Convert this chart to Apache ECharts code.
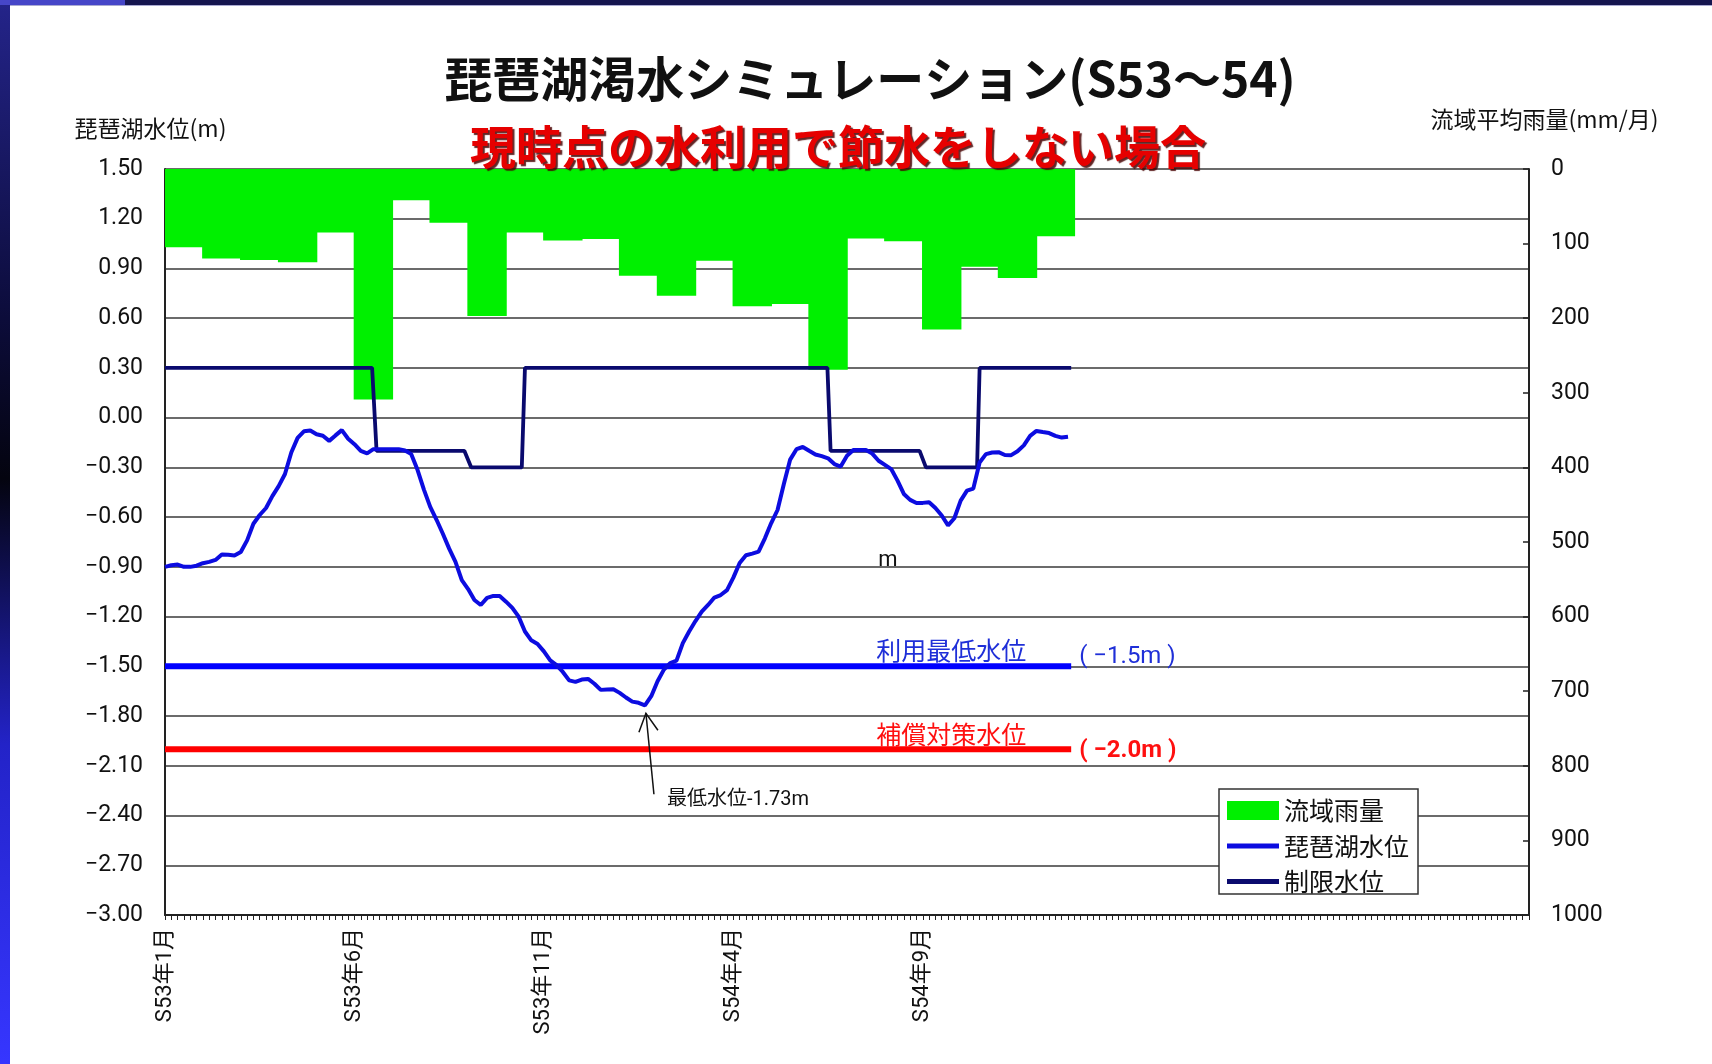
<!DOCTYPE html>
<html><head><meta charset="utf-8">
<script src="https://cdn.jsdelivr.net/npm/echarts@6/dist/echarts.min.js"></script>
<style>html,body{margin:0;padding:0;background:#fff}#c{width:1712px;height:1064px}</style>
</head><body><div id="c"></div>
<script>
// ---- data ----
const monthCats = ['S53年1月','S53年2月','S53年3月','S53年4月','S53年5月','S53年6月','S53年7月','S53年8月','S53年9月','S53年10月','S53年11月','S53年12月',
  'S54年1月','S54年2月','S54年3月','S54年4月','S54年5月','S54年6月','S54年7月','S54年8月','S54年9月','S54年10月','S54年11月','S54年12月',
  'S55年1月','S55年2月','S55年3月','S55年4月','S55年5月','S55年6月','S55年7月','S55年8月','S55年9月','S55年10月','S55年11月','S55年12月'];
const tickLabels = ['S53年1月','S53年6月','S53年11月','S54年4月','S54年9月'];
const tickPentads = [0, 30, 60, 90, 120];           // 5-day periods (72 per year)
const rainfall = [105,120,122,125,85,309,42,72,197,85,96,94,143,170,123,184,181,269,93,97,215,131,146,90]; // mm/month
const level = [-0.90,-0.89,-0.886,-0.90,-0.90,-0.893,-0.878,-0.87,-0.858,-0.825,
 -0.827,-0.831,-0.81,-0.74,-0.64,-0.587,-0.545,-0.473,-0.413,-0.34,
 -0.21,-0.122,-0.082,-0.077,-0.10,-0.109,-0.14,-0.107,-0.075,-0.127,
 -0.16,-0.20,-0.215,-0.19,-0.19,-0.19,-0.19,-0.19,-0.198,-0.22,
 -0.316,-0.434,-0.538,-0.616,-0.70,-0.79,-0.87,-0.98,-1.034,-1.10,
 -1.13,-1.087,-1.075,-1.076,-1.11,-1.147,-1.20,-1.29,-1.343,-1.365,
 -1.41,-1.464,-1.493,-1.534,-1.585,-1.594,-1.58,-1.576,-1.605,-1.642,
 -1.64,-1.638,-1.66,-1.688,-1.713,-1.72,-1.735,-1.68,-1.59,-1.52,
 -1.48,-1.466,-1.36,-1.29,-1.227,-1.17,-1.13,-1.085,-1.07,-1.04,
 -0.965,-0.877,-0.83,-0.82,-0.808,-0.728,-0.636,-0.557,-0.40,-0.253,
 -0.19,-0.177,-0.20,-0.222,-0.232,-0.245,-0.28,-0.295,-0.23,-0.195,
 -0.195,-0.195,-0.217,-0.26,-0.285,-0.31,-0.38,-0.46,-0.496,-0.515,
 -0.514,-0.51,-0.545,-0.59,-0.65,-0.607,-0.50,-0.44,-0.428,-0.27,
 -0.22,-0.21,-0.208,-0.225,-0.226,-0.203,-0.167,-0.11,-0.08,-0.087,
 -0.093,-0.11,-0.12,-0.115];
const limitX = [0, 32.8, 33.5, 47.4, 48.5, 56.5, 57, 104.9, 105.4, 119.5, 120.5, 128.6, 129, 143.5];
const limitY = [0.3, 0.3, -0.2, -0.2, -0.3, -0.3, 0.3, 0.3, -0.2, -0.2, -0.3, -0.3, 0.3, 0.3];
const minUseLevel = -1.5;   // 利用最低水位
const compLevel = -2.0;     // 補償対策水位
const refSpan = [0, 143.5];

// ---- chart ----
const JP = '"Noto Sans CJK JP", sans-serif';
const NUM = 'Roboto, "Noto Sans CJK JP", sans-serif';
const chart = echarts.init(document.getElementById('c'), null, {renderer: 'canvas'});
const fmtLevel = v => { const r = Math.round(v * 100) / 100; return (r < 0 ? '\u2212' : '') + Math.abs(r).toFixed(2); };

const option = {
  animation: false,
  backgroundColor: '#ffffff',
  title: [
    {text: '琵琶湖渇水シミュレーション(S53～54)', left: 870, top: 55, textAlign: 'center', padding: 0,
     textStyle: {fontSize: 48, fontWeight: 'bold', color: '#111', fontFamily: JP}},
    {text: '現時点の水利用で節水をしない場合', left: 838, top: 124, textAlign: 'center', padding: 0,
     textStyle: {fontSize: 46, fontWeight: 'bold', color: '#e60000', fontFamily: JP,
       textShadowColor: 'rgba(70,0,0,0.85)', textShadowOffsetX: 2, textShadowOffsetY: 2, textShadowBlur: 1}}
  ],
  legend: {
    left: 1219, top: 789, orient: 'vertical', padding: [9, 9, 0, 8], itemGap: 10.5,
    itemWidth: 52, itemHeight: 19, backgroundColor: '#fff', borderColor: '#333', borderWidth: 1.5,
    selectedMode: false, textStyle: {fontSize: 25, color: '#111', fontFamily: JP},
    data: [
      {name: '流域雨量', icon: 'rect'},
      {name: '琵琶湖水位', icon: 'path://M0,0L52,0L52,5L0,5Z'},
      {name: '制限水位', icon: 'path://M0,0L52,0L52,5L0,5Z'}
    ]
  },
  grid: {left: 165, right: 183, top: 169, bottom: 149, containLabel: false},
  xAxis: [
    {type: 'value', min: 0, max: 216, interval: 1, position: 'bottom',
     axisLine: {show: true, onZero: false, lineStyle: {color: '#222', width: 2}},
     axisTick: {show: true, length: 5, lineStyle: {color: '#222', width: 1}},
     axisLabel: {show: true, rotate: 90, margin: 13, fontSize: 22, color: '#111', fontFamily: NUM,
       formatter: v => { const k = tickPentads.indexOf(v); return k >= 0 ? tickLabels[k] : ''; }},
     splitLine: {show: false}},
    {type: 'category', data: monthCats, show: false, boundaryGap: true}
  ],
  yAxis: [
    {type: 'value', min: -3, max: 1.5, interval: 0.3, position: 'left',
     name: '琵琶湖水位(m)', nameLocation: 'end', nameGap: 29,
     nameTextStyle: {fontSize: 23, color: '#111', fontFamily: JP, align: 'center', padding: [0, 29, 0, 0]},
     axisLine: {show: true, onZero: false, lineStyle: {color: '#222', width: 2}},
     axisTick: {show: false},
     axisLabel: {fontSize: 23, color: '#111', margin: 22, fontFamily: NUM, formatter: fmtLevel},
     splitLine: {show: true, lineStyle: {color: '#3a3a3a', width: 1.5}}},
    {type: 'value', min: 0, max: 1000, interval: 100, inverse: true, position: 'right',
     name: '流域平均雨量(mm/月)', nameLocation: 'start', nameGap: 38,
     nameTextStyle: {fontSize: 23, color: '#111', fontFamily: JP, align: 'center', padding: [0, 0, 0, 31]},
     axisLine: {show: true, onZero: false, lineStyle: {color: '#222', width: 2}},
     axisTick: {show: true, inside: true, length: 6, lineStyle: {color: '#222', width: 1.5}},
     axisLabel: {fontSize: 23, color: '#111', margin: 22, fontFamily: NUM, formatter: v => String(v)},
     splitLine: {show: false}}
  ],
  series: [
    {type: 'bar', name: '流域雨量', xAxisIndex: 1, yAxisIndex: 1, data: rainfall,
     barWidth: '104%', itemStyle: {color: '#00f000'}},
    {type: 'line', name: '補償対策水位', xAxisIndex: 0, yAxisIndex: 0,
     data: refSpan.map(x => [x, compLevel]), symbol: 'none', lineStyle: {color: '#ff0000', width: 6}, itemStyle: {color: '#ff0000'}},
    {type: 'line', name: '利用最低水位', xAxisIndex: 0, yAxisIndex: 0,
     data: refSpan.map(x => [x, minUseLevel]), symbol: 'none', lineStyle: {color: '#0000ff', width: 6}, itemStyle: {color: '#0000ff'}},
    {type: 'line', name: '制限水位', xAxisIndex: 0, yAxisIndex: 0,
     data: limitX.map((x, i) => [x, limitY[i]]), symbol: 'none', lineStyle: {color: '#0a0a6e', width: 3.8}, itemStyle: {color: '#0a0a6e'}},
    {type: 'line', name: '琵琶湖水位', xAxisIndex: 0, yAxisIndex: 0,
     data: level.map((v, i) => [i, v]), symbol: 'none', lineStyle: {color: '#0c0ce0', width: 4}, itemStyle: {color: '#0c0ce0'}}
  ]
};
chart.setOption(option);

// ---- annotations anchored to data ----
const toPx = (x, y) => chart.convertToPixel({xAxisIndex: 0, yAxisIndex: 0}, [x, y]);
let minIdx = 0;
level.forEach((v, i) => { if (v < level[minIdx]) minIdx = i; });
const pMin = toPx(minIdx, level[minIdx]);
const pUse = toPx(refSpan[1], minUseLevel);
const pComp = toPx(refSpan[1], compLevel);
const txt = (text, x, y, color, size, align, weight, fam) => ({
  type: 'text', x: x, y: y, z: 50,
  style: {text: text, fill: color, fontSize: size, fontFamily: fam || NUM, fontWeight: weight || 'normal',
          align: align, verticalAlign: 'middle'}
});
chart.setOption({
  graphic: [
    // slide frame
    {type: 'rect', shape: {x: 0, y: 0, width: 1712, height: 5}, style: {fill: '#15154f'}, z: 100},
    {type: 'rect', shape: {x: 0, y: 5, width: 1712, height: 1}, style: {fill: '#aaaad2'}, z: 100},
    {type: 'rect', shape: {x: 0, y: 0, width: 125, height: 5}, style: {fill: '#4646c8'}, z: 101},
    {type: 'rect', shape: {x: 0, y: 0, width: 10, height: 1064}, z: 100,
     style: {fill: new echarts.graphic.LinearGradient(0, 0, 0, 1, [
       {offset: 0, color: '#24248a'}, {offset: 0.3, color: '#0c0c3a'}, {offset: 0.45, color: '#04040f'},
       {offset: 0.7, color: '#2323c8'}, {offset: 1, color: '#3636ff'}])}},
    // reference line labels
    txt('利用最低水位', pUse[0] - 45, pUse[1] - 16, '#1f2fd8', 25, 'right', 'normal', JP),
    txt('( \u22121.5m )', pUse[0] + 8, pUse[1] - 9, '#1f2fd8', 24, 'left'),
    txt('補償対策水位', pComp[0] - 45, pComp[1] - 15, '#ff1010', 25, 'right', 'normal', JP),
    txt('( \u22122.0m )', pComp[0] + 8, pComp[1] + 2, '#ff1010', 24, 'left', 'bold'),
    // minimum arrow
    {type: 'polyline', z: 50, shape: {points: [[pMin[0] + 9, pMin[1] + 89], [pMin[0] + 1, pMin[1] + 8]]},
     style: {stroke: '#111', lineWidth: 1.5, fill: null}},
    {type: 'polyline', z: 50, shape: {points: [[pMin[0] - 6, pMin[1] + 27], [pMin[0] + 1, pMin[1] + 8], [pMin[0] + 13, pMin[1] + 25]]},
     style: {stroke: '#111', lineWidth: 1.5, fill: null}},
    txt('最低水位-1.73m', pMin[0] + 22, pMin[1] + 95, '#111', 20, 'left', 'normal', NUM),
    txt('m', 888, 560, '#111', 22, 'center')
  ]
});
</script>
</body></html>
